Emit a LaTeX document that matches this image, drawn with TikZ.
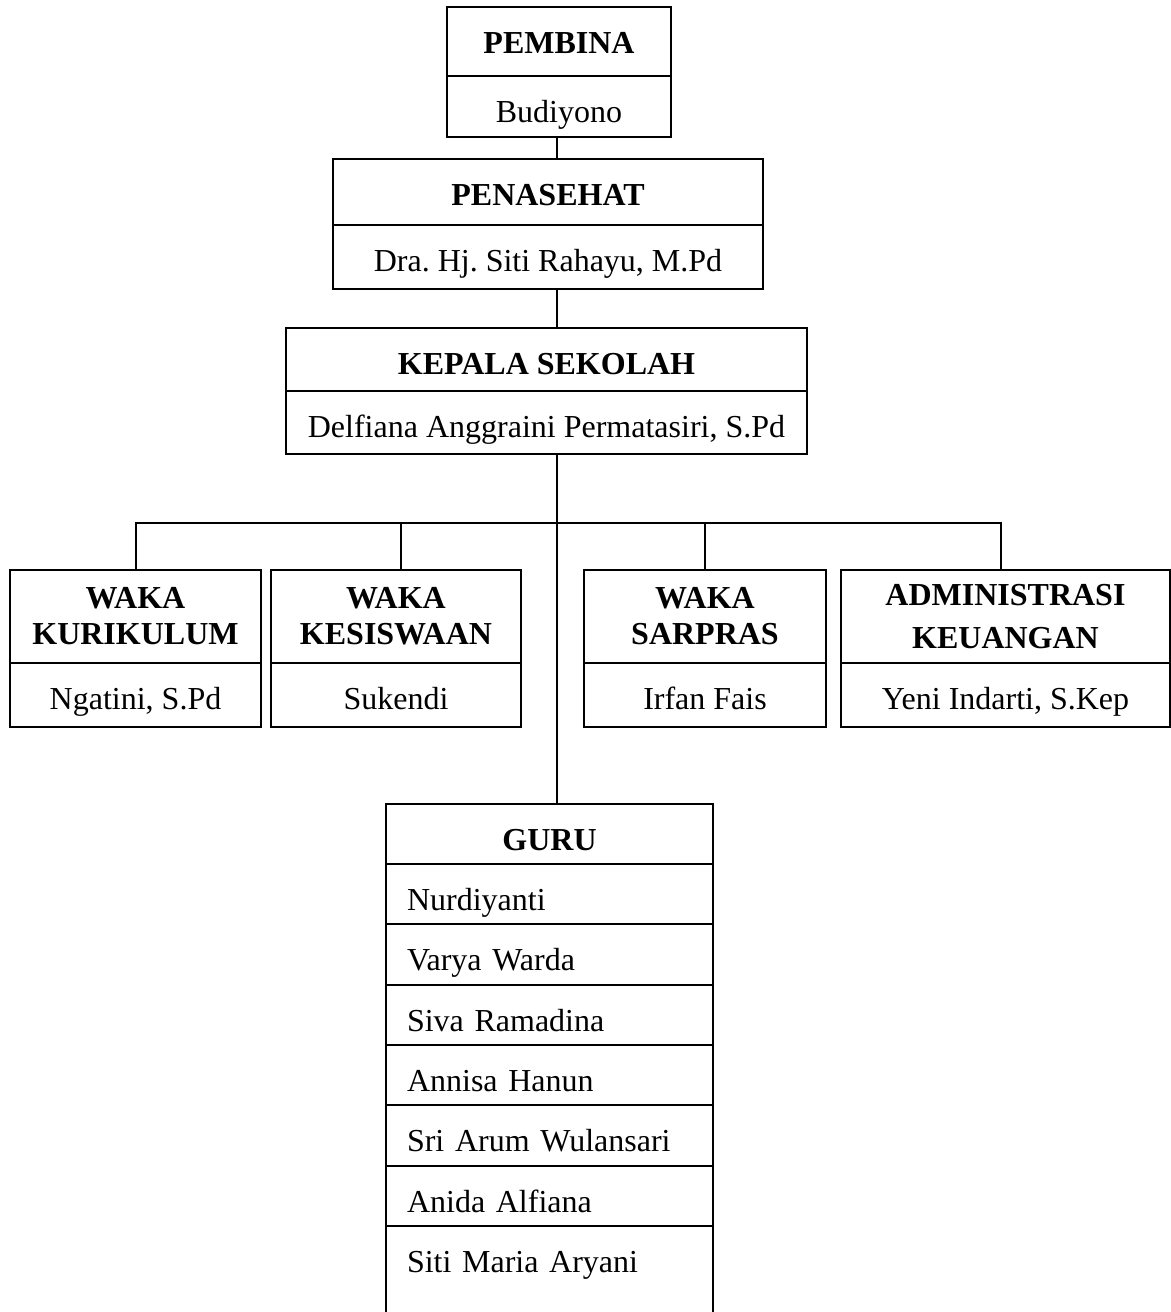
\documentclass[tikz,border=0pt]{standalone}
\usepackage{fontspec}
\setmainfont{Liberation Serif}
\usetikzlibrary{positioning}
\frenchspacing

\begin{document}
\begin{tikzpicture}[x=0.5pt,y=-0.5pt,line width=1pt,
  box/.style={draw,inner sep=0pt,outer sep=0pt,anchor=north,align=center,font=\fontsize{16}{18}\selectfont},
  cell/.style={box,text height=23.25pt},
  headcell/.style={cell,font=\fontsize{16}{18}\selectfont\bfseries},
  twoline/.style={box,font=\fontsize{16}{18}\selectfont\bfseries},
  namerow/.style={cell,minimum width=163.5pt,text width=142.5pt,inner xsep=10.5pt,align=left}]
\useasboundingbox (0,0) rectangle (1171,1312);
\coordinate (spine) at (557,0);
\coordinate (bar) at (0,523);
\node[headcell,minimum width=112pt,minimum height=34.5pt,text depth=11.25pt] (pembina) at (559,7) {PEMBINA};
\node[cell,minimum width=112pt,minimum height=30.5pt,text depth=7.25pt] (pembina-n) at (pembina.south) {Budiyono};
\node[headcell,minimum width=215pt,minimum height=33pt,text depth=9.75pt] (penasehat) at (548,159) {PENASEHAT};
\node[cell,minimum width=215pt,minimum height=32pt,text depth=8.75pt] (penasehat-n) at (penasehat.south) {Dra. Hj. Siti Rahayu, M.Pd};
\node[headcell,minimum width=260.75pt,minimum height=31.5pt,text depth=8.25pt] (kepala) at (546.5,328) {KEPALA SEKOLAH};
\node[cell,minimum width=260.75pt,minimum height=31.5pt,text depth=8.25pt] (kepala-n) at (kepala.south) {Delfiana Anggraini Permatasiri, S.Pd};
\foreach \nm/\cx/\w/\ttl/\who in {kur/135.5/125.5pt/{WAKA\\KURIKULUM}/{Ngatini, S.Pd},kes/396/125pt/{WAKA\\KESISWAAN}/{Sukendi},sar/705/121.25pt/{WAKA\\SARPRAS}/{Irfan Fais},adm/1005.5/164.5pt/{ADMINISTRASI\\[3.5pt]KEUANGAN}/{Yeni Indarti, S.Kep}}{
  \node[twoline,minimum width=\w,minimum height=46.5pt] (\nm) at (\cx,570) {\ttl};
  \node[cell,minimum width=\w,minimum height=32pt,text depth=8.75pt] (\nm-n) at (\nm.south) {\who};
}
\node[headcell,minimum width=163.5pt,minimum height=30pt,text depth=6.75pt] (guru) at (549.5,804) {GURU};
\foreach \who [count=\i] in {Nurdiyanti,Varya Warda,Siva Ramadina,Annisa Hanun,Sri Arum Wulansari,Anida Alfiana}{
  \node[namerow,minimum height=30.15pt,text depth=6.9pt] (g\i) at (549.5,{864+(\i-1)*60.3}) {\who};
}
\node[namerow,minimum height=47.15pt,text depth=23.9pt] (g7) at (g6.south) {Siti Maria Aryani};
\coordinate (kestop) at ([xshift=2.5pt]kes.north);
\coordinate (admtop) at ([xshift=-2.25pt]adm.north);
\draw (pembina-n.south -| spine) -- (penasehat.north -| spine);
\draw (penasehat-n.south -| spine) -- (kepala.north -| spine);
\draw (kepala-n.south -| spine) -- (guru.north -| spine);
\draw (kur.north) |- (bar -| admtop) -- (admtop);
\draw (kestop) -- (kestop |- bar);
\draw (sar.north) -- (sar.north |- bar);
\end{tikzpicture}
\end{document}
